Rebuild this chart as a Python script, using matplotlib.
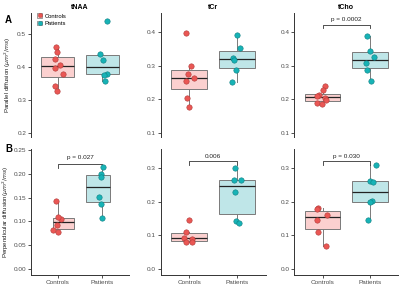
import numpy as np
import matplotlib
matplotlib.use("Agg")
import matplotlib.pyplot as plt
from matplotlib.patches import Patch
from matplotlib.lines import Line2D

plt.rcParams['font.family'] = ['Liberation Sans', 'DejaVu Sans']
plt.rcParams['mathtext.fontset'] = 'dejavusans'

groups = ['Controls', 'Patients']
metabolites = ['tNAA', 'tCr', 'tCho']

# parallel diffusion (top row)
par_ctrl = {
    'tNAA': [0.462, 0.445, 0.425, 0.406, 0.398, 0.379, 0.342, 0.328],
    'tCr': [0.396, 0.300, 0.275, 0.263, 0.255, 0.205, 0.177],
    'tCho': [0.239, 0.227, 0.212, 0.209, 0.204, 0.199, 0.189, 0.187],
}
par_pat = {
    'tNAA': [0.541, 0.440, 0.421, 0.380, 0.377, 0.359],
    'tCr': [0.391, 0.352, 0.324, 0.316, 0.287, 0.251],
    'tCho': [0.389, 0.344, 0.326, 0.308, 0.287, 0.254],
}
# perpendicular diffusion (bottom row)
perp_ctrl = {
    'tNAA': [0.142, 0.104, 0.093, 0.109, 0.082, 0.078],
    'tCr': [0.1465, 0.111, 0.093, 0.089, 0.081, 0.081],
    'tCho': [0.1805, 0.177, 0.1615, 0.1456, 0.110, 0.068],
}
perp_pat = {
    'tNAA': [0.215, 0.199, 0.193, 0.151, 0.136, 0.107],
    'tCr': [0.299, 0.265, 0.264, 0.229, 0.143, 0.136],
    'tCho': [0.310, 0.262, 0.258, 0.2024, 0.198, 0.1466],
}
par_p = {'tCho': 'p = 0.0002'}
perp_p = {'tNAA': 'p = 0.027', 'tCr': '0.006', 'tCho': 'p = 0.030'}

# horizontal jitter (fraction of category spacing)
par_ctrl_dx = {
    'tNAA': [-0.04, -0.02, -0.06, 0.04, -0.07, 0.11, -0.06, -0.02],
    'tCr': [-0.07, 0.03, -0.02, 0.10, -0.07, -0.05, 0.0],
    'tCho': [0.04, 0.0, -0.07, -0.13, 0.04, 0.07, -0.13, -0.01],
}
par_pat_dx = {
    'tNAA': [0.10, -0.04, 0.02, 0.10, 0.03, 0.05],
    'tCr': [0.0, 0.07, -0.09, -0.06, -0.02, -0.10],
    'tCho': [-0.06, 0.01, 0.09, -0.09, -0.07, 0.02],
}
perp_ctrl_dx = {
    'tNAA': [-0.05, 0.08, -0.01, 0.01, -0.10, 0.01],
    'tCr': [0.0, -0.07, -0.12, 0.05, -0.06, 0.06],
    'tCho': [-0.09, -0.11, 0.10, -0.12, -0.09, 0.07],
}
perp_pat_dx = {
    'tNAA': [0.02, -0.02, -0.03, -0.08, -0.03, -0.01],
    'tCr': [-0.05, -0.06, 0.08, -0.05, -0.03, 0.04],
    'tCho': [0.12, 0.0, 0.06, 0.04, 0.0, -0.05],
}

ctrl_col, ctrl_edge, ctrl_fill = '#ea5754', '#b03a38', '#fbd0cf'
pat_col, pat_edge, pat_fill = '#17b3b6', '#0e7f82', '#bfe6e8'

fig = plt.figure(figsize=(4.0, 2.88), dpi=100)
lefts = [31 / 400, 160.7 / 400, 294.3 / 400]
widths = [98 / 400, 105 / 400, 104 / 400]
top_row = (151 / 288, 124 / 288)
bot_row = (13 / 288, 126 / 288)

ylims_top = [(0.188, 0.564), (0.088, 0.457), (0.088, 0.457)]
ylims_bot = [(-0.0126, 0.252), (-0.018, 0.357), (-0.018, 0.357)]
yticks_top = [[0.2, 0.3, 0.4, 0.5], [0.1, 0.2, 0.3, 0.4], [0.1, 0.2, 0.3, 0.4]]
yticks_bot = [[0, 0.05, 0.10, 0.15, 0.20, 0.25], [0, 0.1, 0.2, 0.3], [0, 0.1, 0.2, 0.3]]


def draw(ax, ctrl, pat, cdx, pdx, box_pos=(1, 2), box_w=(0.75, 0.75)):
    # whiskers at the category positions
    ax.boxplot([ctrl, pat], positions=[1, 2], widths=0.75, showbox=False,
               showcaps=False, showfliers=False,
               whiskerprops=dict(color='#7a7a7a', lw=0.7),
               medianprops=dict(lw=0))
    for vals, pos, w, fc in [(ctrl, box_pos[0], box_w[0], ctrl_fill),
                             (pat, box_pos[1], box_w[1], pat_fill)]:
        ax.boxplot([vals], positions=[pos], widths=w, patch_artist=True,
                   showcaps=False, showfliers=False, whis=0,
                   boxprops=dict(facecolor=fc, edgecolor='#7a7a7a', lw=0.7),
                   whiskerprops=dict(lw=0),
                   medianprops=dict(color='#222222', lw=0.9))
    ax.scatter(1 + np.array(cdx), ctrl, s=15, c=ctrl_col, edgecolors=ctrl_edge,
               linewidths=0.4, zorder=5)
    ax.scatter(2 + np.array(pdx), pat, s=15, c=pat_col, edgecolors=pat_edge,
               linewidths=0.4, zorder=5)
    ax.set_xlim(0.4, 2.6)
    for s in ['top', 'right']:
        ax.spines[s].set_visible(False)
    ax.spines['left'].set_linewidth(0.7)
    ax.spines['left'].set_color('#333333')
    ax.tick_params(axis='y', labelsize=4.6, length=2, width=0.6, pad=1.5,
                   colors='#333333', labelcolor='#4d4d4d')


def bracket(ax, y, h, text):
    ax.plot([1, 1, 2, 2], [y - h, y, y, y - h], color='#333333', lw=0.6)
    ax.text(1.5, y + h * 0.8, text, ha='center', va='bottom', fontsize=4.6,
            color='#222222')


for i, m in enumerate(metabolites):
    ax = fig.add_axes([lefts[i], top_row[0], widths[i], top_row[1]])
    draw(ax, par_ctrl[m], par_pat[m], par_ctrl_dx[m], par_pat_dx[m])
    ax.set_ylim(*ylims_top[i])
    ax.set_yticks(yticks_top[i])
    ax.set_yticklabels([f'{t:.1f}' for t in yticks_top[i]])
    ax.spines['bottom'].set_visible(False)
    ax.set_xticks([])
    ax.set_title(m, fontsize=5, fontweight='bold', pad=3)
    if m in par_p:
        bracket(ax, 0.422, 0.01, par_p[m])
    if i == 0:
        ax.set_ylabel(r'Parallel diffusion ($\mu m^2/ms$)', fontsize=4.4, labelpad=3,
                      color='#222222')
        handles = [(Patch(facecolor=ctrl_fill, edgecolor='#7a7a7a', lw=0.5),
                    Line2D([], [], marker='o', ls='', ms=3, mfc=ctrl_col, mec=ctrl_edge, mew=0.3)),
                   (Patch(facecolor=pat_fill, edgecolor='#7a7a7a', lw=0.5),
                    Line2D([], [], marker='o', ls='', ms=3, mfc=pat_col, mec=pat_edge, mew=0.3))]
        ax.legend(handles, groups, loc='upper left', bbox_to_anchor=(0.02, 1.03),
                  fontsize=4.2, frameon=False, handlelength=0.9, handleheight=0.8,
                  handletextpad=0.4, labelspacing=0.35, borderpad=0.2)

    ax = fig.add_axes([lefts[i], bot_row[0], widths[i], bot_row[1]])
    if i == 0:
        draw(ax, perp_ctrl[m], perp_pat[m], perp_ctrl_dx[m], perp_pat_dx[m],
             box_pos=(1.14, 1.9), box_w=(0.47, 0.53))
    else:
        draw(ax, perp_ctrl[m], perp_pat[m], perp_ctrl_dx[m], perp_pat_dx[m])
    ax.set_ylim(*ylims_bot[i])
    ax.set_yticks(yticks_bot[i])
    if i == 0:
        ax.set_yticklabels([f'{t:.2f}' for t in yticks_bot[i]])
    else:
        ax.set_yticklabels([f'{t:.1f}' for t in yticks_bot[i]])
    ax.set_xticks([1, 2])
    ax.set_xticklabels(groups)
    ax.spines['bottom'].set_linewidth(0.7)
    ax.spines['bottom'].set_color('#333333')
    ax.tick_params(axis='x', labelsize=4.6, length=2, width=0.6, pad=1.5,
                   colors='#333333', labelcolor='#4d4d4d')
    if i == 0:
        bracket(ax, 0.221, 0.009, perp_p[m])
        ax.set_ylabel(r'Perpendicular diffusion($\mu m^2/ms$)', fontsize=4.4,
                      labelpad=2, color='#222222')
    else:
        bracket(ax, 0.32, 0.01, perp_p[m])

fig.text(5 / 400, 1 - 20 / 288, 'A', fontsize=7, fontweight='bold', va='center')
fig.text(5 / 400, 1 - 149 / 288, 'B', fontsize=7, fontweight='bold', va='center')

fig.savefig('out.png', dpi=100)
